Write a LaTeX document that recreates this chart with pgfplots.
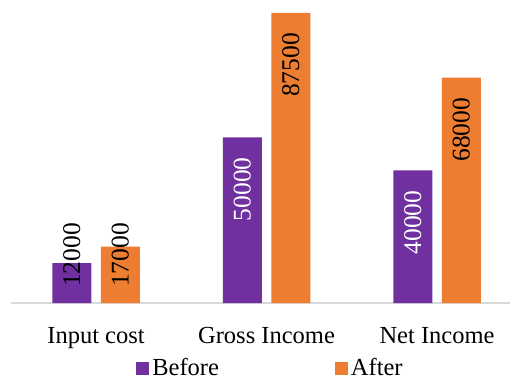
\documentclass[border=0pt]{standalone}
\usepackage{fontspec}
\setmainfont{Liberation Serif}
\usepackage{pgfplots}
\pgfplotsset{compat=1.18}
\definecolor{cpurple}{HTML}{7030A0}
\definecolor{corange}{HTML}{ED7D31}
\newcommand{\lblfont}{\fontsize{25.5bp}{30bp}\selectfont}
\pgfplotsset{sqleg/.style={legend image code/.code={\fill[##1,draw=none] (0bp,-6.5bp) rectangle (13bp,6.5bp);}}}
\begin{document}
\fontsize{24.5bp}{29bp}\selectfont
\begin{tikzpicture}
\useasboundingbox (0,0) rectangle (510bp,380bp);
\begin{axis}[
  at={(11bp,77bp)}, anchor=south west,
  scale only axis, width=499bp, height=298.3bp,
  xmin=-0.4985, xmax=2.428, ymin=0, ymax=90000,
  axis x line=bottom, axis y line=none,
  x axis line style={-, draw=black!15, line width=1.3bp},
  xtick={0,1,2}, xticklabels={Input cost, Gross Income, Net Income},
  major tick length=0pt,
  xticklabel style={anchor=base, yshift=-40bp, inner sep=0pt},
  ytick=\empty,
  clip=false,
  legend columns=2,
  legend style={at={(axis description cs:0.521,-0.221)}, anchor=center,
    draw=none, fill=none, inner sep=0pt, font=\fontsize{24.5bp}{29bp}\selectfont,
    nodes={inner sep=3bp},
    /tikz/every even column/.append style={column sep=113bp}},
]
\addplot[ybar, bar width=39bp, bar shift=-24.25bp, fill=cpurple, draw=none, sqleg,
  nodes near coords, point meta=explicit symbolic,
  every node near coord/.style={xshift=-24.25bp, yshift=-20bp, rotate=90, anchor=east, inner sep=0pt, text=white, font=\lblfont}]
  coordinates {(0,12000) [{}] (1,50000) [50000] (2,40000) [40000]};
\addlegendentry{Before}
\addplot[ybar, bar width=39bp, bar shift=24.25bp, fill=corange, draw=none, sqleg,
  nodes near coords, point meta=explicit symbolic,
  every node near coord/.style={xshift=24.25bp, yshift=-20bp, rotate=90, anchor=east, inner sep=0pt, text=black, font=\lblfont}]
  coordinates {(0,17000) [{}] (1,87500) [87500] (2,68000) [68000]};
\addlegendentry{After}
\addplot[draw=none, mark=none, forget plot,
  nodes near coords, point meta=explicit symbolic,
  every node near coord/.style={rotate=90, anchor=west, inner sep=0pt, text=black, font=\lblfont}]
  coordinates {(-0.1422,4800) [12000] (0.1422,4800) [17000]};
\end{axis}
\end{tikzpicture}
\end{document}
